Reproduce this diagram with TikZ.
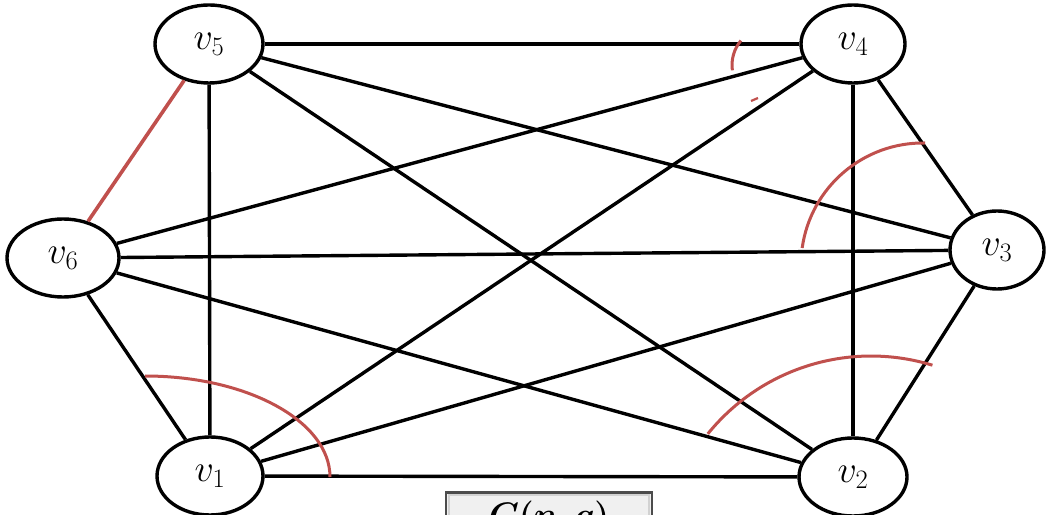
\RequirePackage{fix-cm}
\documentclass[tikz,border=0pt]{standalone}
\usepackage{amsmath,bm}
\usetikzlibrary{shapes.geometric}
\definecolor{arcred}{RGB}{192,80,77}
\begin{document}
\begin{tikzpicture}[x=1pt,y=1pt,
  vert/.style={ellipse, draw, line width=3.4pt, minimum height=78pt, inner sep=0pt, fill=white, font=\fontsize{38}{40}\selectfont},
  edge/.style={line width=3.4pt, black},
  rededge/.style={line width=3.6pt, arcred},
  redarc/.style={line width=3pt, arcred}]
\useasboundingbox (0,0) rectangle (1049,514);
\clip (0,0) rectangle (1049,514);
% nodes
\node[vert, minimum width=108pt] (v5) at (209,470) {$v_5$};
\node[vert, minimum width=104pt] (v4) at (853,470) {$v_4$};
\node[vert, minimum width=112pt] (v6) at (63,256) {$v_6$};
\node[vert, minimum width=94pt]  (v3) at (997,264) {$v_3$};
\node[vert, minimum width=106pt] (v1) at (210,38) {$v_1$};
\node[vert, minimum width=108pt] (v2) at (853,37) {$v_2$};
% edges
\draw[edge] (v5) -- (v4);
\draw[edge] (v5) -- (v1);
\draw[edge] (v5) -- (v2);
\draw[edge] (v5) -- (v3);
\draw[edge] (v4) -- (v6);
\draw[edge] (v4) -- (v1);
\draw[edge] (v4) -- (v3);
\draw[edge] (v4) -- (v2);
\draw[edge] (v6) -- (v3);
\draw[edge] (v6) -- (v2);
\draw[edge] (v6) -- (v1);
\draw[edge] (v1) -- (v2);
\draw[edge] (v1) -- (v3);
\draw[edge] (v2) -- (v3);
\draw[rededge] (v5) -- (v6);
% red angle arcs
\draw[redarc] (330,37) arc[start angle=0, end angle=90, x radius=185, y radius=101];
\draw[redarc] (932.4,148.8) arc[start angle=73, end angle=141, radius=210];
\draw[redarc] (925.1,371) arc[start angle=89, end angle=172, radius=122];
\draw[redarc] (740.9,473.4) arc[start angle=140, end angle=188, radius=38];
\draw[redarc, line width=2.2pt] (751,413) -- (758,416);
% bottom box
\node[draw=gray!60!black, line width=2.5pt, fill=gray!12, minimum width=206pt, minimum height=60pt, anchor=north, inner sep=0pt] (box) at (549,23) {};
\draw[gray!35, line width=2pt] ([shift={(4,-4)}]box.north west) rectangle ([shift={(-4,4)}]box.south east);
\node[anchor=base, font=\fontsize{34}{36}\selectfont, inner sep=0pt] (lab) at (549,-12) {$\bm{C(n,q)}$};
\end{tikzpicture}
\end{document}
